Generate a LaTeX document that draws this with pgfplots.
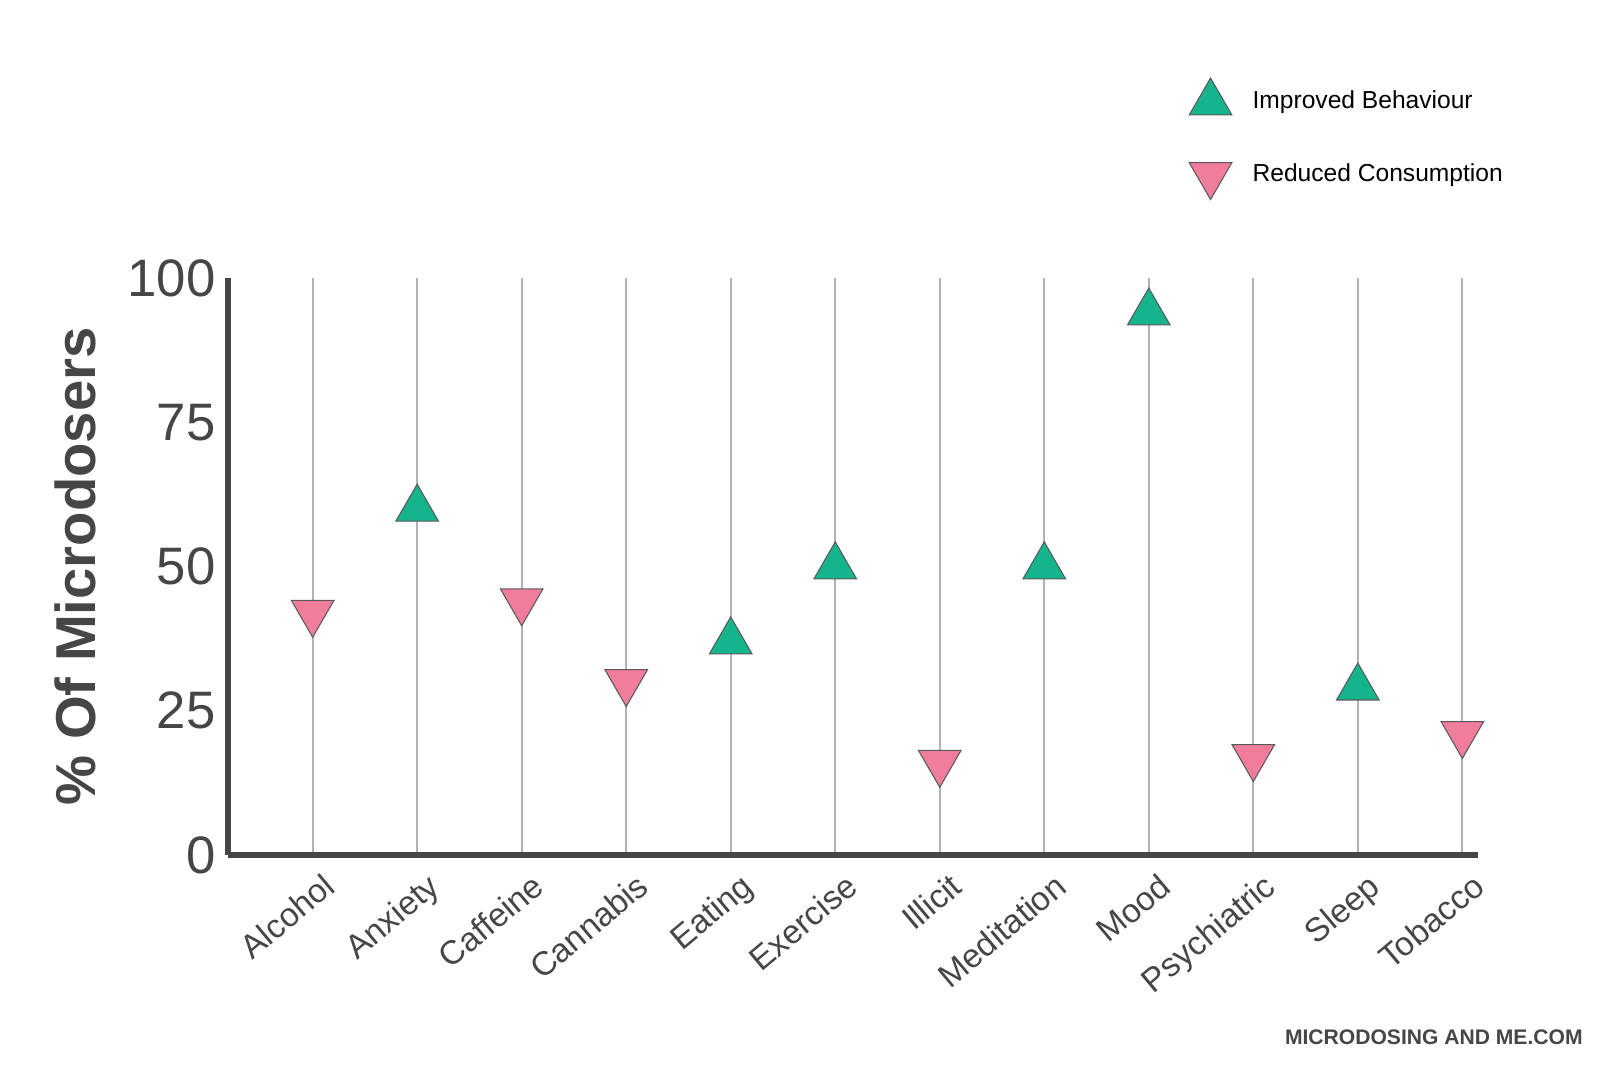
\documentclass[border=0pt]{standalone}
\usepackage{pgfplots}
\pgfplotsset{compat=1.18}
\usepackage{fontspec}
\setmainfont{Liberation Sans}
\definecolor{grn}{RGB}{22,180,140}
\definecolor{pnk}{RGB}{240,125,155}
\definecolor{spine}{RGB}{70,70,70}
\begin{document}
\begin{tikzpicture}
\path (0,0) rectangle (16cm,10.67cm);
\begin{axis}[
  at={(2.28cm,2.12cm)}, anchor=south west,
  scale only axis, width=12.5cm, height=5.77cm,
  xmin=-0.81, xmax=11.15, ymin=0, ymax=100,
  axis x line*=bottom, axis y line*=left,
  axis line style={spine, line width=1.6pt},
  xtick={0,...,11},
  xticklabels={Alcohol,Anxiety,Caffeine,Cannabis,Eating,Exercise,Illicit,Meditation,Mood,Psychiatric,Sleep,Tobacco},
  xticklabel style={rotate=40, anchor=north east, font=\fontsize{9.5}{11}\selectfont, text=spine, inner sep=1pt, yshift=-4pt},
  ytick={0,25,50,75,100},
  yticklabel style={font=\fontsize{15}{17}\selectfont, text=spine},
  /pgf/number format/assume math mode=true,
  major tick length=0pt,
  ytick style={draw=none},
  xmajorgrids, grid style={gray!60, line width=0.6pt},
  ylabel={\bfseries \% Of Microdosers},
  ylabel style={font=\fontsize{16}{18}\selectfont, text=spine, yshift=2pt},
  clip=false,
  legend style={at={(0.76,1.36)}, anchor=north west, draw=none, fill=none,
    font=\fontsize{7}{9}\selectfont, row sep=10pt},
  legend cell align=left,
]
\addplot[only marks, mark=triangle*, mark size=7pt, mark options={fill=grn, draw=gray!70!black, line width=0.3pt}]
 coordinates {(1,60) (4,37) (5,50) (7,50) (8,94) (10,29)};
\addlegendentry{\ \ Improved Behaviour}
\addplot[only marks, mark=triangle*, mark size=7pt, mark options={rotate=180, fill=pnk, draw=gray!70!black, line width=0.3pt}]
 coordinates {(0,42) (2,44) (3,30) (6,16) (9,17) (11,21)};
\addlegendentry{\ \ Reduced Consumption}
\end{axis}
\node[anchor=south east, font=\fontsize{6}{7}\selectfont\bfseries, text=spine] at (15.95cm,0.1cm) {MICRODOSING AND ME.COM};
\end{tikzpicture}
\end{document}
